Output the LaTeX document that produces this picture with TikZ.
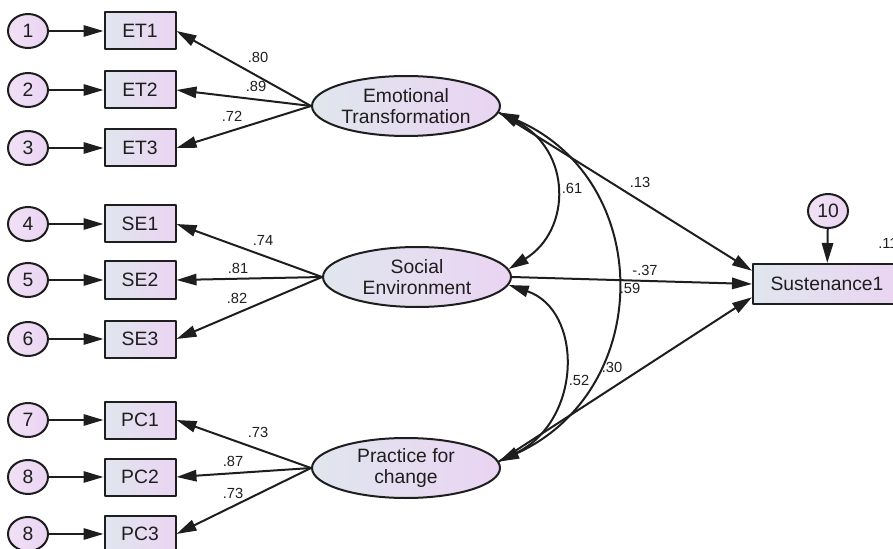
\documentclass[tikz,border=0pt]{standalone}
\usepackage{fontspec}
\setmainfont{Liberation Sans}
\usetikzlibrary{arrows.meta}
\usetikzlibrary{shapes.geometric}

\definecolor{lblue}{RGB}{224,230,238}
\definecolor{lpurp}{RGB}{234,212,242}
\definecolor{ink}{RGB}{30,30,30}

\tikzset{
  obsbox/.style={draw=ink,line width=1.5pt,left color=lblue,right color=lpurp,
    minimum width=53.25pt,minimum height=27.75pt,inner sep=0pt,text=ink,
    font=\fontsize{14.5}{16}\selectfont},
  latent/.style={ellipse,draw=ink,line width=1.5pt,left color=lblue,right color=lpurp,
    minimum width=141pt,minimum height=45pt,inner sep=0pt,align=center,text=ink,
    font=\fontsize{14.5}{16.2}\selectfont},
  errnode/.style={ellipse,draw=ink,line width=1.5pt,left color=lpurp!70!white,right color=lpurp,
    minimum width=30pt,minimum height=25.5pt,inner sep=0pt,text=ink,
    font=\fontsize{14.5}{16}\selectfont},
  coef/.style={text=ink,inner sep=0pt,font=\fontsize{11}{12}\selectfont},
  path/.style={draw=ink,line width=1.5pt,->},
  cov/.style={draw=ink,line width=1.5pt,<->}
}

\begin{document}
\begin{tikzpicture}[x=0.75pt,y=-0.75pt,line cap=round,line join=round,>={Triangle[length=15pt,width=8.5pt]}]
\useasboundingbox (0,0) rectangle (893,549);
%% latent factors
\node[latent] (et) at (406,106) {Emotional\\Transformation};
\node[latent] (se) at (417,277) {Social\\Environment};
\node[latent] (pc) at (406,468) {Practice for\\change};
%% indicators
\node[obsbox] (et1) at (140,31) {ET1};
\node[obsbox] (et2) at (140,90) {ET2};
\node[obsbox] (et3) at (140,148) {ET3};
\node[obsbox] (se1) at (140,224) {SE1};
\node[obsbox] (se2) at (140,280) {SE2};
\node[obsbox] (se3) at (140,339) {SE3};
\node[obsbox] (pc1) at (140,420) {PC1};
\node[obsbox] (pc2) at (140,477) {PC2};
\node[obsbox] (pc3) at (140,534) {PC3};
\node[obsbox,minimum width=111pt,minimum height=30pt] (sus) at (827,284) {Sustenance1};
%% error terms
\node[errnode] (e1) at (28,31) {1};
\node[errnode] (e2) at (28,90) {2};
\node[errnode] (e3) at (28,148) {3};
\node[errnode] (e4) at (28,224) {4};
\node[errnode] (e5) at (28,280) {5};
\node[errnode] (e6) at (28,339) {6};
\node[errnode] (e7) at (28,420) {7};
\node[errnode] (e8) at (28,477) {8};
\node[errnode] (e9) at (28,534) {8};
\node[errnode] (e10) at (828,211) {10};
%% error arrows
\draw[path] (e1) -- (et1);
\draw[path] (e2) -- (et2);
\draw[path] (e3) -- (et3);
\draw[path] (e4) -- (se1);
\draw[path] (e5) -- (se2);
\draw[path] (e6) -- (se3);
\draw[path] (e7) -- (pc1);
\draw[path] (e8) -- (pc2);
\draw[path] (e9) -- (pc3);
\draw[path] (e10) -- (sus);
%% loadings
\draw[path] (et.west) -- (et1.east);
\draw[path] (et.west) -- (et2.east);
\draw[path] (et.west) -- (et3.east);
\draw[path] (se.west) -- (se1.east);
\draw[path] (se.west) -- (se2.east);
\draw[path] (se.west) -- (se3.east);
\draw[path] (pc.west) -- (pc1.east);
\draw[path] (pc.west) -- (pc2.east);
\draw[path] (pc.west) -- (pc3.east);
%% structural paths
\draw[path] (et.-4) -- (sus.170);
\draw[path] (se.east) -- (sus.west);
\draw[path] (pc.4) -- (sus.190);
%% covariances
\draw[cov] (et.-4) .. controls (572,150) and (572,230) .. (se.5);
\draw[cov] (et.-4) .. controls (655,180) and (655,390) .. (pc.4);
\draw[cov] (se.-5) .. controls (583,310) and (583,420) .. (pc.4);
%% estimates
\node[coef] (l1) at (258,57) {.80};
\node[coef] (l2) at (256,86) {.89};
\node[coef] (l3) at (232,116) {.72};
\node[coef] (l4) at (263,240) {.74};
\node[coef] (l5) at (238,268) {.81};
\node[coef] (l6) at (237,298) {.82};
\node[coef] (l7) at (258,432) {.73};
\node[coef] (l8) at (233,461) {.87};
\node[coef] (l9) at (233,493) {.73};
\node[coef] (b1) at (640,182) {.13};
\node[coef] (b2) at (645,270) {-.37};
\node[coef] (b3) at (612,367) {.30};
\node[coef] (c1) at (572,188) {.61};
\node[coef] (c2) at (630,288) {.59};
\node[coef] (c3) at (579,380) {.52};
\node[coef,anchor=west] (r1) at (878,243) {.11};
\end{tikzpicture}
\end{document}
